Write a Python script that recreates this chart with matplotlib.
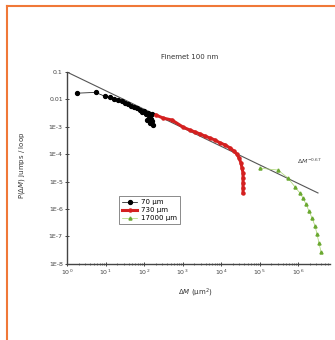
import numpy as np
import matplotlib.pyplot as plt
from matplotlib.lines import Line2D
from matplotlib.ticker import FixedLocator, LogLocator, NullFormatter

# 70 um
dm_70 = [1.8, 5.6, 9.7, 13, 17, 21, 27, 32, 38, 46, 55, 66, 79, 89, 100, 112, 127,
         134, 120, 143, 150, 160, 143, 170, 160]
p_70 = [0.017, 0.018, 0.013, 0.012, 0.010, 0.0095, 0.0088, 0.0074, 0.0068, 0.0058,
        0.0053, 0.0049, 0.0041, 0.0035, 0.0038, 0.0029, 0.0032, 0.0021, 0.0018,
        0.0025, 0.0019, 0.0016, 0.0014, 0.0012, 0.0029]

# 730 um
dm_730 = [205, 312, 534, 1030, 1570, 2110, 2850, 3840, 5180, 6990, 9420, 12700,
          17100, 21800, 26000, 29400, 33100, 35100, 37300, 37300, 37300, 37300, 37300]
p_730 = [2.7e-3, 2.1e-3, 1.77e-3, 9.8e-4, 7.6e-4, 6.5e-4, 5.5e-4, 4.6e-4, 3.9e-4,
         3.3e-4, 2.6e-4, 2.2e-4, 1.7e-4, 1.3e-4, 1.0e-4, 7.3e-5, 4.8e-5, 3.1e-5,
         2.1e-5, 1.35e-5, 8.9e-6, 5.8e-6, 3.8e-6]

# 17000 um
dm_17000 = [1.03e5, 3.03e5, 5.5e5, 8.36e5, 1.13e6, 1.35e6, 1.61e6, 1.93e6, 2.31e6,
            2.77e6, 3.12e6, 3.51e6, 3.96e6]
p_17000 = [3.1e-5, 2.65e-5, 1.35e-5, 6.4e-6, 3.8e-6, 2.5e-6, 1.5e-6, 8.5e-7, 4.7e-7,
           2.4e-7, 1.2e-7, 5.7e-8, 2.7e-8]

# power law guide
fit_x = [1, 3.3e6]
fit_y = [0.1, 0.1 * 3.3e6 ** -0.677]

ytick_vals = [0.1, 0.01, 1e-3, 1e-4, 1e-5, 1e-6, 1e-7, 1e-8]
ytick_labels = ['0.1', '0.01', '1E-3', '1E-4', '1E-5', '1E-6', '1E-7', '1E-8']
xtick_vals = [1, 10, 100, 1e3, 1e4, 1e5, 1e6]
xtick_labels = ['$10^{%d}$' % i for i in range(7)]

fig = plt.figure(figsize=(3.35, 3.40), dpi=100)
ax = fig.add_axes([0.2, 0.224, 0.785, 0.564])

ax.plot(fit_x, fit_y, color='#555555', lw=0.8)
ax.plot(dm_70, p_70, '-o', color='black', mfc='black', mec='black', ms=2.8, lw=0.5,
        label='70 μm')
ax.plot(dm_730, p_730, '-o', color='#d42020', mfc='#d42020', mec='#d42020', ms=2.2,
        lw=2.2, label='730 μm')
ax.plot(dm_17000, p_17000, '-^', color='#a8d470', mfc='#6aa830', mec='#6aa830', ms=2.2,
        lw=0.5, label='17000 μm')

ax.set_xscale('log')
ax.set_yscale('log')
ax.set_xlim(1, 10 ** 6.83)
ax.set_ylim(1e-8, 0.1)

for s in ['top', 'right']:
    ax.spines[s].set_visible(False)
for s in ['left', 'bottom']:
    ax.spines[s].set_linewidth(1.0)
    ax.spines[s].set_color('#444444')

ax.yaxis.set_major_locator(FixedLocator(ytick_vals))
ax.set_yticklabels(ytick_labels)
ax.yaxis.set_minor_locator(FixedLocator([]))
ax.xaxis.set_major_locator(FixedLocator(xtick_vals))
ax.set_xticklabels(xtick_labels)
ax.xaxis.set_minor_locator(LogLocator(base=10, subs=np.arange(2, 10)))
ax.xaxis.set_minor_formatter(NullFormatter())
ax.tick_params(which='major', direction='inout', length=3, width=0.7, labelsize=4.5,
               colors='#444444', pad=1.5)
ax.tick_params(which='minor', direction='inout', length=1.8, width=0.5, colors='#444444')

ax.text(0.875, 0.52, r'$\Delta M^{-0.67}$', transform=ax.transAxes, fontsize=4.5,
        color='#444444')

leg = ax.legend(loc='upper left', bbox_to_anchor=(0.186, 0.37), fontsize=5,
                frameon=True, fancybox=False, edgecolor='#555555', borderpad=0.4,
                handlelength=2.2, handletextpad=0.5, labelspacing=0.3)
leg.get_frame().set_linewidth(0.6)

fig.text(190 / 335, 1 - 57 / 340, 'Finemet 100 nm', ha='center', va='center',
         fontsize=5, color='#333333')
fig.text(195 / 335, 1 - 293 / 340, r'$\Delta M$ (μm$^2$)', ha='center', va='center',
         fontsize=5, color='#333333')
fig.text(22 / 335, 1 - 165 / 340, r'P($\Delta M$) jumps / loop', ha='center',
         va='center', rotation=90, fontsize=5, color='#333333')

# orange frame at top and left
fig.add_artist(Line2D([7 / 335, 1], [1 - 6 / 340, 1 - 6 / 340], color='#f07838', lw=1.5))
fig.add_artist(Line2D([7 / 335, 7 / 335], [0, 1 - 6 / 340], color='#f07838', lw=1.5))

fig.savefig('out.png', dpi=100)
